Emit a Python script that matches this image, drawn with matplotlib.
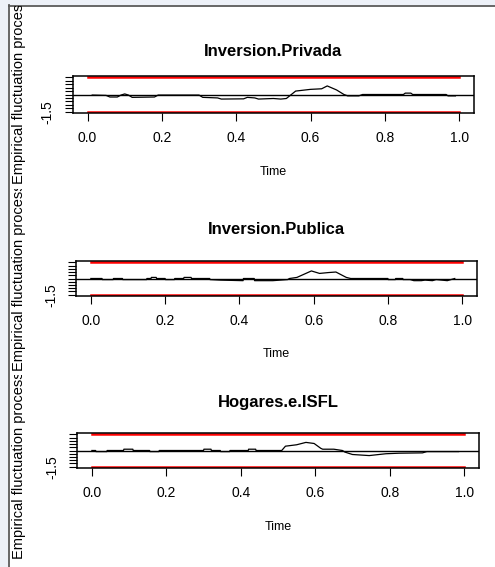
import numpy as np
import matplotlib.pyplot as plt
from matplotlib.patches import Rectangle
from matplotlib.transforms import Bbox

plt.rcParams['font.family'] = ['Liberation Sans', 'DejaVu Sans']

# empirical fluctuation processes
titles = ['Inversion.Privada', 'Inversion.Publica', 'Hogares.e.ISFL']

t1 = [0.0125, 0.05, 0.06, 0.08, 0.09, 0.10, 0.11, 0.12, 0.18, 0.19, 0.30, 0.31, 0.35, 0.36,
      0.42, 0.43, 0.45, 0.46, 0.50, 0.52, 0.535, 0.56, 0.60, 0.63, 0.645, 0.67, 0.69, 0.70,
      0.73, 0.74, 0.85, 0.855, 0.87, 0.875, 0.965, 0.97, 0.99]
v1 = [-0.05, -0.08, -0.22, -0.22, -0.05, 0.05, -0.05, -0.25, -0.22, -0.05, -0.05, -0.25,
      -0.3, -0.4, -0.38, -0.25, -0.3, -0.4, -0.35, -0.4, -0.35, 0.3, 0.45, 0.5, 0.75, 0.4,
      0.0, -0.12, -0.12, 0.0, 0.0, 0.12, 0.12, 0.0, 0.0, -0.12, -0.12]

t2 = [0.0, 0.03, 0.031, 0.06, 0.061, 0.085, 0.086, 0.15, 0.151, 0.162, 0.163, 0.176, 0.177,
      0.2, 0.201, 0.225, 0.226, 0.25, 0.251, 0.27, 0.271, 0.32, 0.321, 0.35, 0.41, 0.411,
      0.44, 0.441, 0.49, 0.53, 0.535, 0.555, 0.594, 0.616, 0.64, 0.66, 0.688, 0.7, 0.8,
      0.801, 0.82, 0.821, 0.84, 0.841, 0.86, 0.87, 0.89, 0.9, 0.92, 0.93, 0.96, 0.97, 0.98]
v2 = [0, 0, -0.1, -0.1, 0, 0, -0.1, -0.1, 0, 0, 0.1, 0.1, 0, 0, -0.1, -0.1, 0, 0, 0.1,
      0.1, 0, 0, -0.1, -0.15, -0.2, 0, 0, -0.2, -0.2, -0.1, 0, 0.1, 0.7, 0.47, 0.55, 0.6,
      0.1, 0, 0, -0.1, -0.1, 0, 0, -0.1, -0.1, -0.2, -0.2, -0.15, -0.2, -0.1, -0.2, -0.1, 0]

t3 = [0.0, 0.01, 0.011, 0.04, 0.041, 0.085, 0.086, 0.11, 0.111, 0.155, 0.156, 0.18, 0.181,
      0.3, 0.301, 0.32, 0.321, 0.345, 0.346, 0.37, 0.371, 0.42, 0.421, 0.44, 0.441, 0.51,
      0.52, 0.55, 0.575, 0.597, 0.615, 0.62, 0.65, 0.673, 0.68, 0.70, 0.745, 0.79, 0.825,
      0.888, 0.9, 0.985]
v3 = [0, 0, -0.1, -0.1, 0, 0, 0.12, 0.12, 0, 0, -0.1, -0.1, 0, 0, 0.12, 0.12, 0, 0, -0.1,
      -0.1, 0, 0, 0.12, 0.12, 0, 0, 0.4, 0.53, 0.75, 0.65, 0.2, 0.12, 0.12, 0, -0.15, -0.37,
      -0.47, -0.3, -0.25, -0.22, -0.1, -0.1]

series = [(t1, v1), (t2, v2), (t3, v3)]
boundary = 1.5
xticks = [0.0, 0.2, 0.4, 0.6, 0.8, 1.0]
yticks = np.round(np.arange(-1.5, 1.51, 0.3), 2)

W, H = 495, 567
fig = plt.figure(figsize=(W / 100, H / 100), dpi=100)
fig.patch.set_facecolor('white')

# screenshot frame: light strip on top and left with a grey edge
fig.patches.append(Rectangle((0, 1 - 5 / H), 1, 5 / H, transform=fig.transFigure,
                             facecolor='#edf1f8', edgecolor='none', zorder=0))
fig.patches.append(Rectangle((0, 0), 8 / W, 1, transform=fig.transFigure,
                             facecolor='#edf1f8', edgecolor='none', zorder=0))
fig.add_artist(plt.Line2D([8.5 / W, 8.5 / W], [0, 1 - 5 / H], transform=fig.transFigure,
                          color='#5a5a5a', lw=1.3))
fig.add_artist(plt.Line2D([8.5 / W, 1], [1 - 5.5 / H, 1 - 5.5 / H], transform=fig.transFigure,
                          color='#5a5a5a', lw=1.3))

# box pixels (left, right, top, bottom), title y, time y, ylab centre, clip region
boxes = [(72.7, 474, 76, 113, 52, 172, 90, 6, 189),
         (76, 477, 261, 296, 230, 354, 277, 189, 372),
         (77, 479, 433, 468, 402, 527, 465, 375, 567)]

for (t, v), title, (x0, x1, y0, y1, ty, tmy, yc, r0, r1) in zip(series, titles, boxes):
    ax = fig.add_axes([x0 / W, 1 - y1 / H, (x1 - x0) / W, (y1 - y0) / H])
    ax.plot(t, v, color='black', lw=0.9)
    ax.axhline(0, color='black', lw=1.0)
    ax.plot([0, 1], [boundary, boundary], color='#ff0000', lw=1.8)
    ax.plot([0, 1], [-boundary, -boundary], color='#ff0000', lw=1.8)
    ax.set_xlim(-0.04, 1.04)
    ax.set_ylim(-boundary * 1.08, boundary * 1.08)
    ax.set_xticks(xticks)
    ax.set_xticklabels(['%.1f' % x for x in xticks], fontsize=10)
    ax.set_yticks(yticks)
    ax.set_yticklabels(['-1.5'] + [''] * (len(yticks) - 1), fontsize=10,
                       rotation=90, va='center')
    ax.tick_params(direction='out', length=6, width=0.8, pad=7)
    for s in ax.spines.values():
        s.set_linewidth(1.1)
    fig.text(0.5 * (x0 + x1) / W, 1 - ty / H, title, ha='center', va='center',
             fontsize=12, fontweight='bold')
    fig.text(0.5 * (x0 + x1) / W, 1 - tmy / H, 'Time', ha='center', va='center',
             fontsize=9)
    yl = fig.text(19.5 / W, 1 - yc / H, 'Empirical fluctuation process',
                  rotation=90, ha='center', va='center', fontsize=10.5)
    yl.set_clip_box(Bbox([[0, H - r1], [W, H - r0]]))
    yl.set_clip_on(True)

fig.savefig('out.png', dpi=100)
